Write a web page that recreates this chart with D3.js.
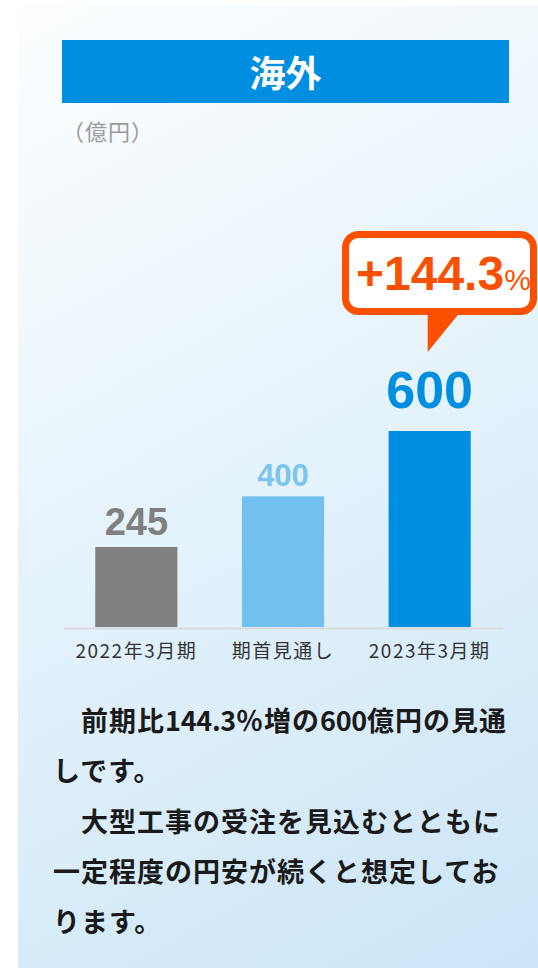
<!DOCTYPE html>
<html>
<head>
<meta charset="utf-8">
<script src="https://cdn.jsdelivr.net/npm/d3@7"></script>
<style>
  body { margin: 0; background: #ffffff; }
  svg { display: block; }
</style>
</head>
<body>
<script>
// chart data
const categories = ["2022年3月期", "期首見通し", "2023年3月期"];
const values = [245, 400, 600];
const changeLabel = "+144.3";
const unitLabel = "（億円）";
const title = "海外";
const noteLines = [
  "　前期比144.3％増の600億円の見通",
  "しです。",
  "　大型工事の受注を見込むとともに",
  "一定程度の円安が続くと想定してお",
  "ります。"
];

// look of each bar (kept apart from the data)
const barColors = ["#808080", "#72c0ed", "#008fe0"];
const labelColors = ["#808080", "#7cc5ef", "#008fe0"];
const labelSizes = [38, 31, 52];
const labelGaps = [12, 10, 23];

const W = 538, H = 968;
const orange = "#fa5000";

const svg = d3.select("body").append("svg")
  .attr("width", W)
  .attr("height", H);

// background panel with soft gradient
const defs = svg.append("defs");
const grad = defs.append("linearGradient")
  .attr("id", "bg")
  .attr("gradientUnits", "userSpaceOnUse")
  .attr("x1", 18).attr("y1", 5)
  .attr("x2", 538).attr("y2", 968);
grad.append("stop").attr("offset", 0).attr("stop-color", "#fcfeff");
grad.append("stop").attr("offset", 0.5).attr("stop-color", "#e4f2fb");
grad.append("stop").attr("offset", 1).attr("stop-color", "#cbe5f7");

svg.append("rect")
  .attr("x", 18).attr("y", 5)
  .attr("width", W - 18).attr("height", H - 5)
  .attr("fill", "url(#bg)");

// title bar
svg.append("rect")
  .attr("x", 62).attr("y", 40)
  .attr("width", 447).attr("height", 63)
  .attr("fill", "#008fe0");

svg.append("text")
  .attr("x", 285.5).attr("y", 87)
  .attr("text-anchor", "middle")
  .attr("font-family", "'Noto Sans CJK JP', sans-serif")
  .attr("font-weight", "bold")
  .attr("font-size", 36)
  .attr("fill", "#ffffff")
  .text(title);

svg.append("text")
  .attr("x", 62).attr("y", 140)
  .attr("font-family", "'Noto Sans CJK JP', sans-serif")
  .attr("font-size", 22)
  .attr("letter-spacing", 1)
  .attr("fill", "#9a9a9a")
  .text(unitLabel);

// scales
const x = d3.scaleBand()
  .domain(categories)
  .range([63, 503])
  .paddingInner(0.44)
  .paddingOuter(0.22);

const y = d3.scaleLinear()
  .domain([0, 600])
  .range([627, 431]);

const data = categories.map((c, i) => ({ cat: c, val: values[i], i: i }));

// bars
svg.selectAll(".bar")
  .data(data)
  .enter()
    .append("rect")
      .attr("class", "bar")
      .attr("x", d => x(d.cat))
      .attr("y", d => y(d.val))
      .attr("width", x.bandwidth())
      .attr("height", d => y(0) - y(d.val))
      .attr("fill", d => barColors[d.i]);

// value labels
svg.selectAll(".val")
  .data(data)
  .enter()
    .append("text")
      .attr("class", "val")
      .attr("x", d => x(d.cat) + x.bandwidth() / 2)
      .attr("y", d => y(d.val) - labelGaps[d.i])
      .attr("text-anchor", "middle")
      .attr("font-family", "'Liberation Sans', Arial, sans-serif")
      .attr("font-weight", "bold")
      .attr("font-size", d => labelSizes[d.i])
      .attr("fill", d => labelColors[d.i])
      .text(d => d.val);

// x axis
const axis = svg.append("g")
  .attr("transform", "translate(0," + 628 + ")")
  .call(d3.axisBottom(x).tickSize(0).tickSizeOuter(0).tickPadding(17));

axis.select(".domain")
  .attr("stroke", "#d9d9d9")
  .attr("stroke-width", 2);

axis.selectAll("text")
  .attr("font-family", "'Noto Sans CJK JP', sans-serif")
  .attr("font-size", 19)
  .attr("letter-spacing", 1.5)
  .attr("fill", "#333333");

// callout bubble over the last bar
const last = data[data.length - 1];
const tailX = x(last.cat) + x.bandwidth() / 2 - 2;
const boxTop = 234.5, boxBottom = 311.5;

svg.append("rect")
  .attr("x", 345.5).attr("y", boxTop)
  .attr("width", 188).attr("height", boxBottom - boxTop)
  .attr("rx", 13)
  .attr("fill", "#ffffff")
  .attr("stroke", orange)
  .attr("stroke-width", 7);

svg.append("path")
  .attr("d", d3.line()([[tailX, boxBottom], [tailX + 33, boxBottom], [tailX, 352]]) + "Z")
  .attr("fill", orange);

const callout = svg.append("text")
  .attr("x", 356).attr("y", 290)
  .attr("font-family", "'Liberation Sans', Arial, sans-serif")
  .attr("fill", orange);

callout.append("tspan")
  .attr("font-weight", "bold")
  .attr("font-size", 48)
  .text(changeLabel);

callout.append("tspan")
  .attr("font-size", 30)
  .text("%");

// note text under the chart; runs of digits are set a little tighter
const notes = svg.selectAll(".note")
  .data(noteLines)
  .enter()
    .append("text")
      .attr("class", "note")
      .attr("x", 53)
      .attr("y", (d, i) => 731 + i * 50.3)
      .attr("font-family", "'Noto Sans CJK JP', sans-serif")
      .attr("font-weight", "bold")
      .attr("font-size", 27)
      .attr("fill", "#1a1a1a");

notes.selectAll("tspan")
  .data(d => d.split(/([0-9.]+)/).filter(s => s.length))
  .enter()
    .append("tspan")
      .attr("letter-spacing", s => /^[0-9.]+$/.test(s) ? -0.3 : 1)
      .text(s => s);
</script>
</body>
</html>
